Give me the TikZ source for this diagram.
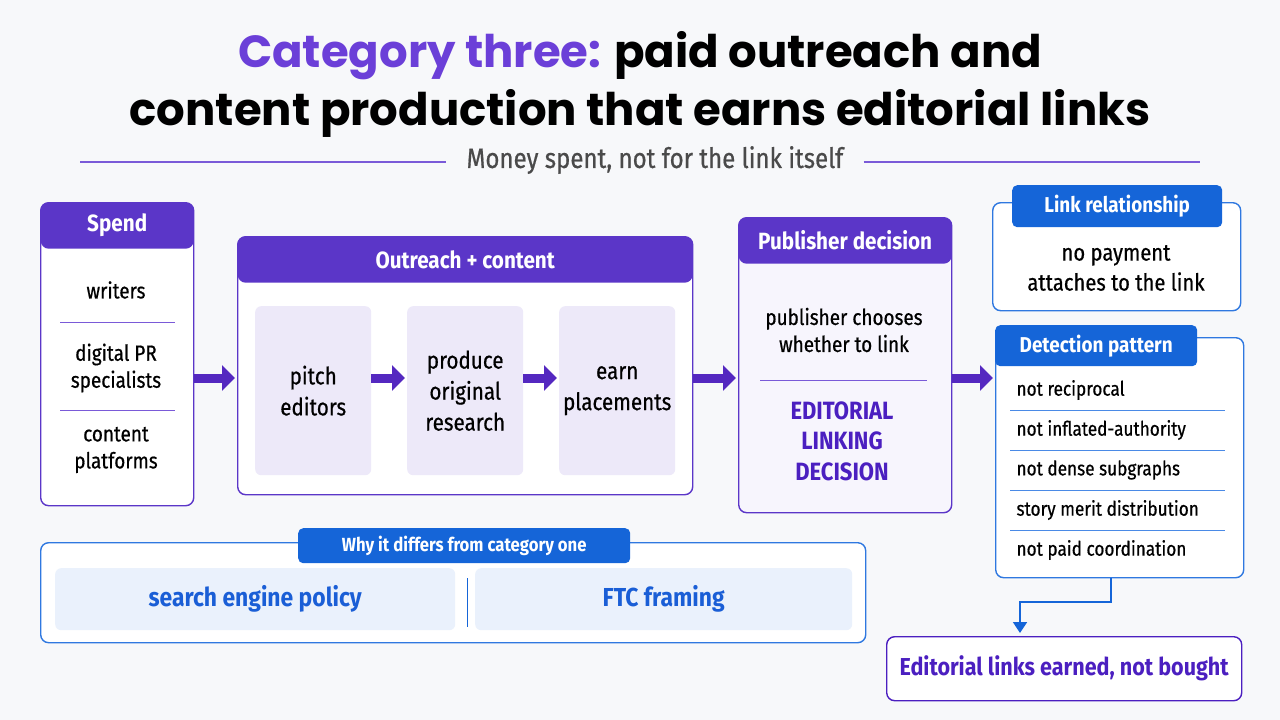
\documentclass[tikz,border=0pt]{standalone}
\usepackage{fontspec}
\usepackage{tikz}
\usetikzlibrary{arrows.meta}
\setmainfont{Fira Sans}[FakeStretch=0.88]
\newfontfamily\medfont{Fira Sans}[FakeStretch=0.86, FakeBold=0.6]
\newfontfamily\titlefont{Poppins}
\definecolor{bg}{HTML}{F7F8FA}
\definecolor{purp}{HTML}{5B36C8}
\definecolor{titlepurp}{HTML}{6B3FD8}
\definecolor{arrowpurp}{HTML}{5428C0}
\definecolor{lav}{HTML}{EDE9F9}
\definecolor{pubfill}{HTML}{F7F5FD}
\definecolor{deeppurp}{HTML}{4B1FC0}
\definecolor{seppurp}{HTML}{7A5AD8}
\definecolor{blu}{HTML}{1565D8}
\definecolor{blueb}{HTML}{2F78E0}
\definecolor{sepblue}{HTML}{4A8AE6}
\definecolor{panelblue}{HTML}{EAF1FC}
\definecolor{bluetext}{HTML}{1A5ED6}
\definecolor{subgray}{HTML}{4A4A4A}

\begin{document}
\begin{tikzpicture}[x=1pt,y=-1pt,
	  box/.style={draw=#1, line width=1.4pt, rounded corners=8pt, fill=white,
	    anchor=north west, inner sep=0pt},
	  topbar/.style={path picture={\fill[#1] (path picture bounding box.north west)
	    rectangle ([yshift=-46pt]path picture bounding box.north east);}},
	  hdr/.style={text=white, font=\bfseries\fontsize{23.5}{26}\selectfont},
	  tab/.style={fill=blu, rounded corners=5pt, anchor=north west, inner sep=0pt,
	    text=white, font=\bfseries\fontsize{21.5}{24}\selectfont},
	  item/.style={align=center, font=\medfont\fontsize{22}{27}\selectfont},
	  ditem/.style={anchor=west, font=\medfont\fontsize{20}{24}\selectfont},
	  stage/.style={fill=lav, rounded corners=6pt, anchor=north west, inner sep=0pt,
	    minimum width=116pt, minimum height=169pt, align=center,
	    font=\medfont\fontsize{24}{31}\selectfont},
	  panel/.style={fill=panelblue, rounded corners=6pt, anchor=north west, inner sep=0pt,
	    minimum height=62pt, text=bluetext, font=\bfseries\fontsize{26}{30}\selectfont},
	  sep/.style={draw=#1, line width=1pt},
	  flow/.style={draw=arrowpurp, line width=9pt, shorten >=2pt,
	    -{Triangle[length=13pt,width=25pt]}},
	  link/.style={draw=blu, line width=1.8pt, shorten >=3pt,
	    -{Triangle[length=11pt,width=14pt]}}]

	  \fill[bg] (0,0) rectangle (1280,720);
	  \useasboundingbox (0,0) rectangle (1280,720);

	  \node[align=center, font=\titlefont\bfseries\fontsize{45}{58}\selectfont] (title) at (640,84)
	    {{\color{titlepurp}Category three:} paid outreach and\\content production that earns editorial links};
	  \node[text=subgray, inner xsep=20pt, font=\medfont\fontsize{28}{32}\selectfont] (sub) at (655,160)
	    {Money spent, not for the link itself};
	  \coordinate (ruleL) at (80,162);
	  \coordinate (ruleR) at (1200,162);
	  \draw[sep=seppurp, line width=1.6pt] (ruleL) -- (sub.west |- ruleL);
	  \draw[sep=seppurp, line width=1.6pt] (sub.east |- ruleR) -- (ruleR);

	  \node[box=purp, topbar=purp, minimum width=153pt, minimum height=303pt] (spend) at (40,202) {};
	  \node[hdr] at ([yshift=-23pt]spend.north) {Spend};
	  \node[item] (writers) at (116,290) {writers};
	  \draw[sep=seppurp] (60,322) -- (175,322);
	  \node[item] (digital) at (116,368) {digital PR\\specialists};
	  \draw[sep=seppurp] (60,410) -- (175,410);
	  \node[item] (platforms) at (116,450) {content\\platforms};

	  \node[box=purp, topbar=purp, minimum width=455pt, minimum height=258pt] (outreach) at (237,236) {};
	  \node[hdr] at ([yshift=-24pt]outreach.north) {Outreach + content};
	  \node[stage] (pitch) at (255,306) {pitch\\editors};
	  \node[stage] (produce) at (407,306) {produce\\original\\research};
	  \node[stage] (earn) at (559,306) {earn\\placements};

	  \node[box=purp, topbar=purp, fill=pubfill, minimum width=213pt, minimum height=295pt] (publisher) at (738,217) {};
	  \node[hdr] at ([yshift=-23pt]publisher.north) {Publisher decision};
	  \node[item] (chooses) at (844,330) {publisher chooses\\whether to link};
	  \draw[sep=seppurp] (760,380) -- (927,380);
	  \node[item, text=deeppurp, font=\bfseries\fontsize{25}{30.5}\selectfont] (decision) at (842,441)
	    {EDITORIAL\\LINKING\\DECISION};

	  \node[box=blueb, minimum width=248pt, minimum height=108pt] (linkrel) at (992,202) {};
	  \node[tab, minimum width=210pt, minimum height=42pt] (linkhd) at (1012,185) {Link relationship};
	  \node[item, font=\medfont\fontsize{23.5}{30}\selectfont] (nopay) at (1116,268) {no payment\\attaches to the link};

	  \node[box=blueb, minimum width=248pt, minimum height=240pt] (detect) at (995,337) {};
	  \node[tab, minimum width=202pt, minimum height=41pt] (detecthd) at (995,325) {Detection pattern};
	  \node[ditem] (recip) at (1013,390) {not reciprocal};
	  \draw[sep=sepblue] (1010,410) -- (1225,410);
	  \node[ditem] (inflated) at (1013,430) {not inflated-authority};
	  \draw[sep=sepblue] (1010,450) -- (1225,450);
	  \node[ditem] (dense) at (1013,470) {not dense subgraphs};
	  \draw[sep=sepblue] (1010,490) -- (1225,490);
	  \node[ditem] (merit) at (1013,510) {story merit distribution};
	  \draw[sep=sepblue] (1010,530) -- (1225,530);
	  \node[ditem] (coord) at (1013,550) {not paid coordination};

	  \node[box=blueb, minimum width=825pt, minimum height=100pt] (why) at (40,542) {};
	  \node[tab, minimum width=332pt, minimum height=35pt, font=\bfseries\fontsize{19}{22}\selectfont]
	    (whyhd) at (298,528) {Why it differs from category one};
	  \node[panel, minimum width=400pt] (policy) at (55,568) {search engine policy};
	  \node[panel, minimum width=377pt] (ftc) at (475,568) {FTC framing};
	  \draw[draw=blu, line width=1pt] (467,578) -- (467,627);

	  \node[box=deeppurp, minimum width=355pt, minimum height=64pt] (earned) at (886,636) {};
	  \node[text=deeppurp, font=\bfseries\fontsize{24.5}{30}\selectfont] at (earned.center)
	    {Editorial links earned, not bought};

	  \coordinate (row) at (0,378);
	  \draw[flow] (spend.east |- row) -- (outreach.west |- row);
	  \draw[flow] (pitch.east |- row) -- (produce.west |- row);
	  \draw[flow] (produce.east |- row) -- (earn.west |- row);
	  \draw[flow] (outreach.east |- row) -- (publisher.west |- row);
	  \draw[flow] (publisher.east |- row) -- (detect.west |- row);

	  \coordinate (turn) at (1020,602);
	  \draw[link] ([xshift=-9pt]detect.south) |- (turn) -- (earned.north -| turn);
	\end{tikzpicture}
\end{document}
